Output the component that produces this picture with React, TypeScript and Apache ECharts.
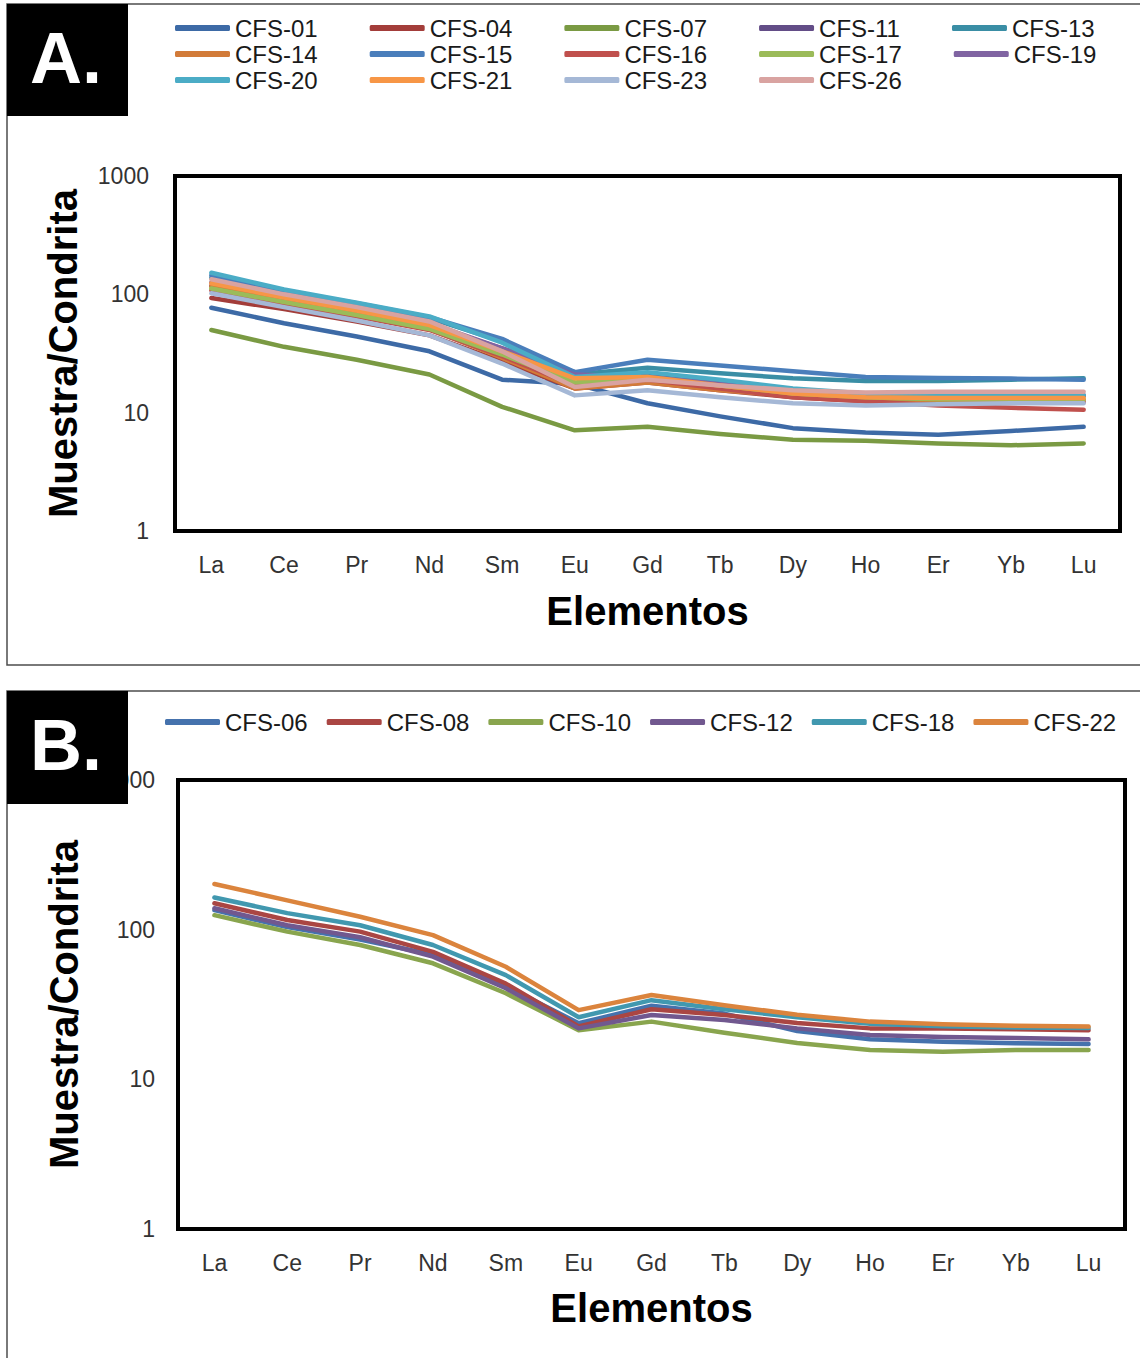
import React, { useEffect, useRef } from "react";
import * as echarts from "echarts";

const elements = ["La", "Ce", "Pr", "Nd", "Sm", "Eu", "Gd", "Tb", "Dy", "Ho", "Er", "Yb", "Lu"];

// Panel A samples
const namesA = ["CFS-01", "CFS-04", "CFS-07", "CFS-11", "CFS-13", "CFS-14", "CFS-15", "CFS-16", "CFS-17", "CFS-19", "CFS-20", "CFS-21", "CFS-23", "CFS-26"];
const colorsA = ["#3D6AA6", "#A33D3A", "#7A9A43", "#634D87", "#3A8EA5", "#D27B39", "#4A7EBB", "#C0504D", "#9BBB59", "#8064A2", "#4BACC6", "#F79646", "#A5B8D6", "#D9A3A1"];
const cfs01 = [77, 57, 44, 33, 19, 17.5, 12, 9.3, 7.4, 6.8, 6.5, 7.0, 7.6];
const cfs04 = [93, 75, 59, 45, 27, 16, 18, 15.5, 13.5, 12.5, 12.3, 12.3, 12.3];
const cfs07 = [50, 36, 28, 21, 11.2, 7.1, 7.6, 6.6, 5.9, 5.8, 5.5, 5.3, 5.5];
const cfs11 = [118, 90, 71, 55, 35, 22, 21, 18, 15.5, 14.2, 13.8, 13.8, 13.8];
const cfs13 = [138, 104, 82, 63, 40, 21, 24, 21.5, 19.5, 18.5, 18.5, 19, 19.5];
const cfs14 = [117, 88, 68, 51, 29, 16, 18, 15.5, 13.8, 13, 12.8, 12.8, 12.8];
const cfs15 = [145, 107, 84, 64, 42, 22, 28, 25, 22.4, 20, 19.6, 19.4, 19];
const cfs16 = [108, 83, 65, 50, 30, 17, 19, 16, 13.5, 12.5, 11.5, 11, 10.6];
const cfs17 = [112, 86, 67, 51, 31, 18, 20, 17, 14.5, 13.5, 13, 13, 13];
const cfs19 = [126, 95, 74, 57, 35, 21, 20, 17.5, 15, 14, 14, 14, 14];
const cfs20 = [152, 110, 85, 65, 39, 20, 22, 19, 16, 14.5, 14, 14, 14];
const cfs21 = [124, 94, 73, 55, 33, 19.5, 20, 17, 14.5, 13.5, 13.3, 13.3, 13.3];
const cfs23 = [102, 78, 60, 45, 26, 14, 15.5, 13.5, 12, 11.5, 11.8, 12, 12];
const cfs26 = [134, 100, 78, 59, 33, 16.5, 19, 17, 15.5, 14.8, 15, 15, 15];
const dataA = [cfs01, cfs04, cfs07, cfs11, cfs13, cfs14, cfs15, cfs16, cfs17, cfs19, cfs20, cfs21, cfs23, cfs26];

// Panel B samples
const namesB = ["CFS-06", "CFS-08", "CFS-10", "CFS-12", "CFS-18", "CFS-22"];
const colorsB = ["#4572AD", "#AA4643", "#89A54E", "#71588F", "#4198AF", "#DB843D"];
const cfs06 = [135, 104, 86, 68, 42, 23.7, 31, 27.5, 21, 18.5, 17.8, 17.4, 17.2];
const cfs08 = [150, 116, 97, 71, 43.6, 22.6, 29.4, 26.9, 23.8, 21.9, 21.9, 21.6, 21.3];
const cfs10 = [125, 97, 79, 59.6, 37.6, 21.3, 24.3, 20.5, 17.5, 15.7, 15.3, 15.7, 15.7];
const cfs12 = [139, 107, 89, 66, 40.6, 21.9, 26.9, 24.9, 21.9, 19.8, 19.2, 18.9, 18.5];
const cfs18 = [164, 129, 107, 79, 49.7, 26, 33.8, 29.4, 26, 23.5, 22.6, 22.2, 22];
const cfs22 = [202, 157, 122, 92, 56.5, 29, 36.6, 31.3, 27, 24.3, 23.3, 22.8, 22.5];
const dataB = [cfs06, cfs08, cfs10, cfs12, cfs18, cfs22];

const FONT = "'Liberation Sans', Arial, sans-serif";

export default function App() {
  const ref = useRef<HTMLDivElement>(null);
  useEffect(() => {
    if (!ref.current) return;
    const chart = echarts.init(ref.current, null, { renderer: "svg" });

    const xAxisBase = (gridIndex: number, gap: number) => ({
      type: "category",
      gridIndex,
      data: elements,
      boundaryGap: true,
      axisLine: { show: false },
      axisTick: { show: false },
      axisLabel: { fontSize: 23, color: "#333", fontFamily: FONT, margin: 22 },
      name: "Elementos",
      nameLocation: "middle",
      nameGap: gap,
      nameTextStyle: { fontSize: 40, fontWeight: "bold", color: "#000", fontFamily: FONT },
    });
    const yAxisBase = (gridIndex: number, margin: number, gap: number) => ({
      type: "log",
      logBase: 10,
      gridIndex,
      min: 1,
      max: 1000,
      axisLine: { show: false },
      axisTick: { show: false },
      splitLine: { show: false },
      axisLabel: { fontSize: 23, color: "#333", fontFamily: FONT, margin, formatter: (v: number) => String(Math.round(v)) },
      name: "Muestra/Condrita",
      nameLocation: "middle",
      nameGap: gap,
      nameTextStyle: { fontSize: 40, fontWeight: "bold", color: "#000", fontFamily: FONT },
    });

    const mkSeries = (names: string[], data: number[][], colors: string[], idx: number) =>
      names.map((n, i) => ({
        name: n,
        type: "line",
        xAxisIndex: idx,
        yAxisIndex: idx,
        data: data[i],
        symbol: "none",
        showSymbol: false,
        color: colors[i],
        lineStyle: { width: 4.5, color: colors[i], cap: "round", join: "round" },
        itemStyle: { color: colors[i] },
      }));

    const legendBase = {
      orient: "horizontal",
      icon: "roundRect",
      itemWidth: 55,
      itemHeight: 6,
      padding: 0,
      selectedMode: false,
      textStyle: { fontSize: 24, color: "#1a1a1a", fontFamily: FONT, lineHeight: 26 },
    };

    chart.setOption({
      animation: false,
      backgroundColor: "#fff",
      textStyle: { fontFamily: FONT },
      grid: [
        { left: 175, top: 176, width: 945, height: 355, show: true, borderColor: "#000", borderWidth: 4, backgroundColor: "transparent" },
        { left: 178, top: 780, width: 947, height: 449, show: true, borderColor: "#000", borderWidth: 4, backgroundColor: "transparent" },
      ],
      xAxis: [xAxisBase(0, 60), xAxisBase(1, 59)],
      yAxis: [yAxisBase(0, 26, 92), yAxisBase(1, 23, 94)],
      legend: [
        { ...legendBase, left: 175, top: 15, itemGap: 52, data: namesA.slice(0, 5) },
        { ...legendBase, left: 175, top: 41, itemGap: 52, data: namesA.slice(5, 10) },
        { ...legendBase, left: 175, top: 67, itemGap: 52, data: namesA.slice(10, 14) },
        { ...legendBase, left: 165, top: 709, itemGap: 19, data: namesB },
      ],
      series: [...mkSeries(namesA, dataA, colorsA, 0), ...mkSeries(namesB, dataB, colorsB, 1)],
      graphic: [
        { type: "rect", z: 100, shape: { x: 7, y: 4, width: 1150, height: 661 }, style: { fill: "none", stroke: "#4d4d4d", lineWidth: 1.5 } },
        { type: "rect", z: 100, shape: { x: 7, y: 691, width: 1150, height: 700 }, style: { fill: "none", stroke: "#4d4d4d", lineWidth: 1.5 } },
        { type: "rect", z: 101, shape: { x: 7, y: 4, width: 121, height: 112 }, style: { fill: "#000" } },
        { type: "text", z: 102, x: 66, y: 58, style: { text: "A.", fill: "#fff", fontSize: 72, fontWeight: "bold", fontFamily: FONT, textAlign: "center", textVerticalAlign: "middle" } },
        { type: "rect", z: 101, shape: { x: 7, y: 691, width: 121, height: 113 }, style: { fill: "#000" } },
        { type: "text", z: 102, x: 66, y: 745, style: { text: "B.", fill: "#fff", fontSize: 72, fontWeight: "bold", fontFamily: FONT, textAlign: "center", textVerticalAlign: "middle" } },
      ],
    });
    return () => chart.dispose();
  }, []);
  return <div ref={ref} style={{ position: "absolute", left: 0, top: 0, width: 1140, height: 1358 }} />;
}
